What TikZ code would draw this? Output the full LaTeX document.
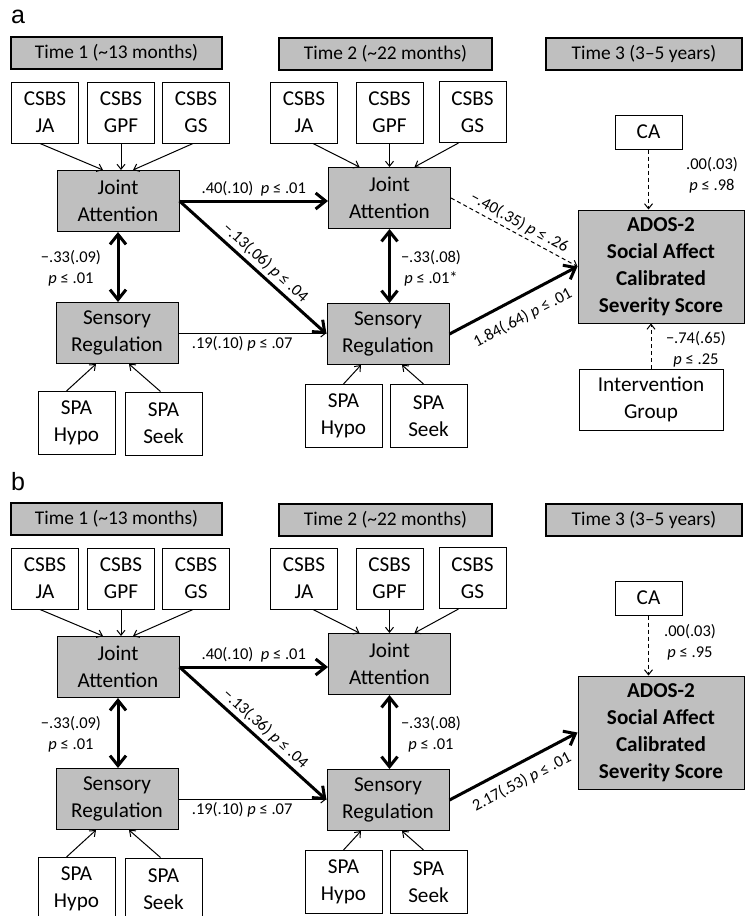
\documentclass[tikz,border=0pt]{standalone}
\usepackage{fontspec}
\setmainfont{Carlito}
\newfontfamily\panelfont{Liberation Sans}
\usetikzlibrary{arrows.meta}

\begin{document}
\begin{tikzpicture}[
    x=0.5pt,
    y=-0.5pt,
    every node/.style={font=\fontsize{10.6}{13.5}\selectfont},
    panellabel/.style={font=\panelfont\fontsize{12.5}{14}\selectfont},
    box/.style={draw, line width=0.5pt, align=center, inner sep=0pt},
    obs/.style={box, minimum width=33.5pt, minimum height=30.5pt},
    spa/.style={box, minimum width=38.5pt, minimum height=31.5pt},
    latent/.style={box, fill=gray!50, minimum width=61pt, minimum height=30.5pt},
    outcome/.style={box, fill=gray!50, minimum width=83pt, minimum height=56.5pt,
        font=\bfseries\fontsize{10.6}{13.5}\selectfont},
    timebox/.style={draw, line width=1pt, fill=gray!50, minimum height=16pt,
        inner sep=0pt, font=\fontsize{9.7}{11}\selectfont},
    coef/.style={font=\fontsize{8.25}{10.5}\selectfont, align=center, inner sep=1.5pt},
    loadarrow/.style={line width=0.5pt, -{Straight Barb[length=2.5pt,width=4pt]}},
    nsdash/.style={loadarrow, dash pattern=on 2pt off 1.5pt},
    strong/.style={line width=1.5pt, -{Straight Barb[length=5pt,width=8pt]}},
    covar/.style={line width=1.5pt,
        {Straight Barb[length=5pt,width=8pt]}-{Straight Barb[length=5pt,width=8pt]}}
]

    \useasboundingbox (0,0) rectangle (746,916);
    \clip (0,0) rectangle (746,916);

    % panel a
    \node[panellabel] (a-lab) at (18,17) {a};

    \node[timebox, minimum width=105.5pt] (a-t1) at (116.5,53) {Time 1 (\textasciitilde13 months)};
    \node[timebox, minimum width=106.5pt] (a-t2) at (385.5,53.5) {Time 2 (\textasciitilde22 months)};
    \node[timebox, minimum width=98pt] (a-t3) at (644,53.5) {Time 3 (3–5 years)};

    \node[obs] (a-cja1) at (45,112.5) {CSBS\\JA};
    \node[obs] (a-cgpf1) at (121,112.5) {CSBS\\GPF};
    \node[obs] (a-cgs1) at (196,112.5) {CSBS\\GS};
    \node[obs] (a-cja2) at (304,112.5) {CSBS\\JA};
    \node[obs] (a-cgpf2) at (389.5,112.5) {CSBS\\GPF};
    \node[obs] (a-cgs2) at (472.5,112) {CSBS\\GS};

    \node[latent] (a-ja1) at (118,201) {Joint\\Attention};
    \node[latent] (a-ja2) at (389.5,198) {Joint\\Attention};
    \node[latent] (a-sr1) at (117,333) {Sensory\\Regulation};
    \node[latent] (a-sr2) at (388,334) {Sensory\\Regulation};

    \node[spa] (a-hypo1) at (76.5,423) {SPA\\Hypo};
    \node[spa] (a-seek1) at (163.5,423.5) {SPA\\Seek};
    \node[spa] (a-hypo2) at (343.5,416) {SPA\\Hypo};
    \node[spa] (a-seek2) at (428.5,416) {SPA\\Seek};

    \node[box, minimum width=33.5pt, minimum height=17pt] (a-ca) at (648.5,132) {CA};
    \node[outcome] (a-ados) at (661,266.5) {ADOS-2\\Social Affect\\Calibrated\\Severity Score};
    \node[box, minimum width=72pt, minimum height=30.5pt] (a-grp) at (651,399.5) {Intervention\\Group};

    \draw[loadarrow] ([xshift=-2.5pt]a-cja1.south) -- ([xshift=-7.5pt]a-ja1.north);
    \draw[loadarrow] (a-cgpf1.south) -- (a-cgpf1.south |- a-ja1.north);
    \draw[loadarrow] ([xshift=-1.5pt]a-cgs1.south) -- ([xshift=7.5pt]a-ja1.north);
    \draw[loadarrow] ([xshift=4.5pt]a-cja2.south) -- ([xshift=-15pt]a-ja2.north);
    \draw[loadarrow] (a-cgpf2.south) -- (a-cgpf2.south |- a-ja2.north);
    \draw[loadarrow] ([xshift=-7pt]a-cgs2.south) -- ([xshift=12.5pt]a-ja2.north);

    \draw[loadarrow] ([xshift=-5pt]a-hypo1.north) -- ([xshift=-10.5pt]a-sr1.south);
    \draw[loadarrow] ([xshift=-1.5pt]a-seek1.north) -- ([xshift=6pt]a-sr1.south);
    \draw[loadarrow] (a-hypo2.north) -- ([xshift=-13.5pt]a-sr2.south);
    \draw[loadarrow] ([xshift=-2.5pt]a-seek2.north) -- ([xshift=7pt]a-sr2.south);

    \draw[strong] (a-ja1.east) -- (a-ja1.east -| a-ja2.west)
        node[coef, midway, above] (a-l-ja) {.40(.10)\ \ \textit{p} ≤ .01};
    \draw[strong] (a-ja1.east) -- (a-sr2.west)
        node[coef, pos=0.53, sloped, above] (a-l-cross) {−.13(.06) \textit{p} ≤ .04};
    \draw[covar] (a-ja1.south) -- (a-ja1.south |- a-sr1.north);
    \node[coef] (a-l-cov1) at (71,268) {−.33(.09)\\\textit{p} ≤ .01};
    \draw[loadarrow] (a-sr1.east) -- (a-sr1.east -| a-sr2.west)
        node[coef, pos=0.43, below] (a-l-sr) {.19(.10) \textit{p} ≤ .07};
    \draw[covar] (a-ja2.south) -- (a-ja2.south |- a-sr2.north);
    \node[coef] (a-l-cov2) at (431,268) {−.33(.08)\\\textit{p} ≤ .01*};
    \draw[nsdash] (a-ja2.east) -- (a-ados.west)
        node[coef, midway, sloped, above] (a-l-jaout) {−.40(.35) \textit{p} ≤ .26};
    \draw[strong] (a-sr2.east) -- (a-ados.west)
        node[coef, midway, sloped, below=4pt] (a-l-srout) {1.84(.64) \textit{p} ≤ .01};
    \draw[nsdash] (a-ca.south) -- (a-ca.south |- a-ados.north);
    \node[coef] (a-l-ca) at (712,175) {.00(.03)\\\textit{p} ≤ .98};
    \draw[nsdash] (a-grp.north) -- (a-grp.north |- a-ados.south);
    \node[coef] (a-l-grp) at (696,349) {−.74(.65)\\\textit{p} ≤ .25};

    % panel b
    \begin{scope}[shift={(0,466)}]
    \node[panellabel] (b-lab) at (18,16) {b};

    \node[timebox, minimum width=105.5pt] (b-t1) at (116.5,53) {Time 1 (\textasciitilde13 months)};
    \node[timebox, minimum width=106.5pt] (b-t2) at (385.5,53.5) {Time 2 (\textasciitilde22 months)};
    \node[timebox, minimum width=98pt] (b-t3) at (644,53.5) {Time 3 (3–5 years)};

    \node[obs] (b-cja1) at (45,112.5) {CSBS\\JA};
    \node[obs] (b-cgpf1) at (121,112.5) {CSBS\\GPF};
    \node[obs] (b-cgs1) at (196,112.5) {CSBS\\GS};
    \node[obs] (b-cja2) at (304,112.5) {CSBS\\JA};
    \node[obs] (b-cgpf2) at (389.5,112.5) {CSBS\\GPF};
    \node[obs] (b-cgs2) at (472.5,112) {CSBS\\GS};

    \node[latent] (b-ja1) at (118,201) {Joint\\Attention};
    \node[latent] (b-ja2) at (389.5,198) {Joint\\Attention};
    \node[latent] (b-sr1) at (117,333) {Sensory\\Regulation};
    \node[latent] (b-sr2) at (388,334) {Sensory\\Regulation};

    \node[spa] (b-hypo1) at (76.5,423) {SPA\\Hypo};
    \node[spa] (b-seek1) at (163.5,423.5) {SPA\\Seek};
    \node[spa] (b-hypo2) at (343.5,416) {SPA\\Hypo};
    \node[spa] (b-seek2) at (428.5,416) {SPA\\Seek};

    \node[box, minimum width=33.5pt, minimum height=17pt] (b-ca) at (648.5,132) {CA};
    \node[outcome] (b-ados) at (661,266.5) {ADOS-2\\Social Affect\\Calibrated\\Severity Score};

    \draw[loadarrow] ([xshift=-2.5pt]b-cja1.south) -- ([xshift=-7.5pt]b-ja1.north);
    \draw[loadarrow] (b-cgpf1.south) -- (b-cgpf1.south |- b-ja1.north);
    \draw[loadarrow] ([xshift=-1.5pt]b-cgs1.south) -- ([xshift=7.5pt]b-ja1.north);
    \draw[loadarrow] ([xshift=4.5pt]b-cja2.south) -- ([xshift=-15pt]b-ja2.north);
    \draw[loadarrow] (b-cgpf2.south) -- (b-cgpf2.south |- b-ja2.north);
    \draw[loadarrow] ([xshift=-7pt]b-cgs2.south) -- ([xshift=12.5pt]b-ja2.north);

    \draw[loadarrow] ([xshift=-5pt]b-hypo1.north) -- ([xshift=-10.5pt]b-sr1.south);
    \draw[loadarrow] ([xshift=-1.5pt]b-seek1.north) -- ([xshift=6pt]b-sr1.south);
    \draw[loadarrow] (b-hypo2.north) -- ([xshift=-13.5pt]b-sr2.south);
    \draw[loadarrow] ([xshift=-2.5pt]b-seek2.north) -- ([xshift=7pt]b-sr2.south);

    \draw[strong] (b-ja1.east) -- (b-ja1.east -| b-ja2.west)
        node[coef, midway, above] (b-l-ja) {.40(.10)\ \ \textit{p} ≤ .01};
    \draw[strong] (b-ja1.east) -- (b-sr2.west)
        node[coef, pos=0.53, sloped, above] (b-l-cross) {−.13(.36) \textit{p} ≤ .04};
    \draw[covar] (b-ja1.south) -- (b-ja1.south |- b-sr1.north);
    \node[coef] (b-l-cov1) at (71,268) {−.33(.09)\\\textit{p} ≤ .01};
    \draw[loadarrow] (b-sr1.east) -- (b-sr1.east -| b-sr2.west)
        node[coef, pos=0.43, below] (b-l-sr) {.19(.10) \textit{p} ≤ .07};
    \draw[covar] (b-ja2.south) -- (b-ja2.south |- b-sr2.north);
    \node[coef] (b-l-cov2) at (431,268) {−.33(.08)\\\textit{p} ≤ .01};
    \draw[strong] (b-sr2.east) -- (b-ados.west)
        node[coef, midway, sloped, below=3pt] (b-l-srout) {2.17(.53) \textit{p} ≤ .01};
    \draw[nsdash] (b-ca.south) -- (b-ca.south |- b-ados.north);
    \node[coef] (b-l-ca) at (690,176.5) {.00(.03)\\\textit{p} ≤ .95};
    \end{scope}

\end{tikzpicture}
\end{document}
